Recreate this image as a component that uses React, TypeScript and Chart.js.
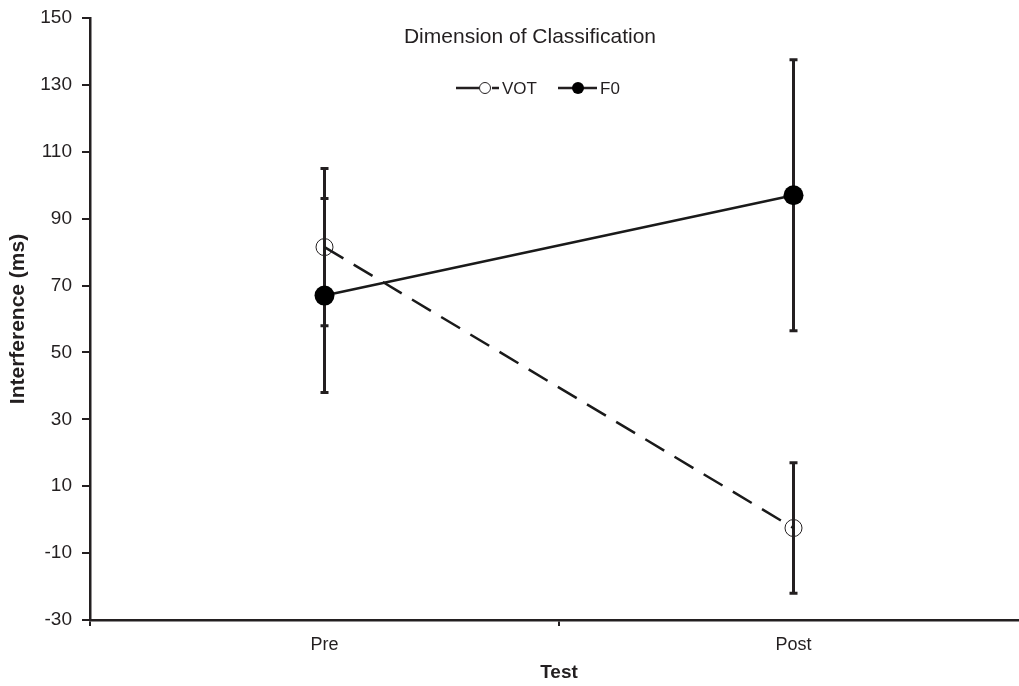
import React, { useEffect, useRef } from "react";
import { Chart, registerables } from "chart.js";

Chart.register(...registerables);

const categories = ["Pre", "Post"];
const votMeans = [81.5, -2.5];
const votErrors = [23.5, 19.5];
const f0Means = [67, 97];
const f0Errors = [29, 40.5];
const yTicks = { min: -30, max: 150, step: 20 };
const chartTitle = "Dimension of Classification";
const seriesNames = ["VOT", "F0"];

const INK = "#231f20";
const SANS = "Arial, 'Liberation Sans', Helvetica, sans-serif";

const errorBarPlugin = {
  id: "errorBars",
  beforeDatasetsDraw(chart: any) {
    const { ctx, scales } = chart;
    const x = scales.x;
    const y = scales.y;
    const sets = [
      { m: votMeans, e: votErrors },
      { m: f0Means, e: f0Errors },
    ];
    ctx.save();
    ctx.strokeStyle = INK;
    ctx.lineWidth = 3;
    ctx.setLineDash([]);
    sets.forEach((s) => {
      s.m.forEach((v, i) => {
        const px = x.getPixelForValue(i);
        const top = y.getPixelForValue(v + s.e[i]);
        const bot = y.getPixelForValue(v - s.e[i]);
        ctx.beginPath();
        ctx.moveTo(px, top);
        ctx.lineTo(px, bot);
        ctx.moveTo(px - 4, top);
        ctx.lineTo(px + 4, top);
        ctx.moveTo(px - 4, bot);
        ctx.lineTo(px + 4, bot);
        ctx.stroke();
      });
    });
    ctx.restore();
  },
};

const headerPlugin = {
  id: "header",
  afterDraw(chart: any) {
    const { ctx } = chart;
    ctx.save();
    ctx.fillStyle = INK;
    ctx.font = `21px ${SANS}`;
    ctx.textAlign = "center";
    ctx.textBaseline = "middle";
    ctx.fillText(chartTitle, 530, 37);

    const ly = 88;
    ctx.strokeStyle = INK;
    ctx.lineWidth = 2.5;
    // VOT legend
    ctx.beginPath();
    ctx.moveTo(456, ly);
    ctx.lineTo(479, ly);
    ctx.moveTo(492, ly);
    ctx.lineTo(499, ly);
    ctx.stroke();
    ctx.lineWidth = 1;
    ctx.beginPath();
    ctx.arc(485, ly, 5.5, 0, Math.PI * 2);
    ctx.stroke();
    ctx.textAlign = "left";
    ctx.font = `17px ${SANS}`;
    ctx.fillText(seriesNames[0], 502, ly + 1);
    // F0 legend
    ctx.lineWidth = 2.5;
    ctx.beginPath();
    ctx.moveTo(558, ly);
    ctx.lineTo(597, ly);
    ctx.stroke();
    ctx.fillStyle = "#000";
    ctx.beginPath();
    ctx.arc(578, ly, 6, 0, Math.PI * 2);
    ctx.fill();
    ctx.fillStyle = INK;
    ctx.fillText(seriesNames[1], 600, ly + 1);
    ctx.restore();
  },
};

export default function App() {
  const ref = useRef<HTMLCanvasElement | null>(null);

  useEffect(() => {
    if (!ref.current) return;
    const chart = new Chart(ref.current, {
      type: "line",
      data: {
        labels: categories,
        datasets: [
          {
            label: seriesNames[0],
            data: votMeans,
            borderColor: "#1a1a1a",
            borderWidth: 2.5,
            borderDash: [22, 12],
            pointRadius: 8.5,
            pointBorderWidth: 1,
            pointBorderColor: INK,
            pointBackgroundColor: "rgba(0,0,0,0)",
            fill: false,
            tension: 0,
          },
          {
            label: seriesNames[1],
            data: f0Means,
            borderColor: "#1a1a1a",
            borderWidth: 2.5,
            pointRadius: 10,
            pointBorderWidth: 0,
            pointBackgroundColor: "#000",
            fill: false,
            tension: 0,
          },
        ],
      },
      options: {
        animation: false,
        responsive: true,
        maintainAspectRatio: false,
        layout: { padding: { left: 0, right: 2, top: 18, bottom: 0 } },
        plugins: {
          legend: { display: false },
          tooltip: { enabled: false },
          title: { display: false },
        },
        scales: {
          x: {
            type: "category",
            offset: true,
            afterFit(scale: any) {
              scale.height = 66;
            },
            grid: {
              offset: true,
              drawOnChartArea: false,
              drawTicks: true,
              tickLength: 6,
              color: INK,
              lineWidth: 2,
            },
            border: { display: true, color: INK, width: 2.5 },
            ticks: {
              color: INK,
              font: { family: SANS, size: 18 },
              padding: 8,
            },
            title: {
              display: true,
              text: "Test",
              color: INK,
              font: { family: SANS, size: 19, weight: "bold" },
              padding: { top: 0, bottom: 2 },
            },
          },
          y: {
            min: yTicks.min,
            max: yTicks.max,
            afterFit(scale: any) {
              scale.width = 90;
              scale.paddingTop = 0;
              scale.paddingBottom = 0;
            },
            ticks: {
              stepSize: yTicks.step,
              color: INK,
              font: { family: SANS, size: 19 },
              padding: 10,
            },
            grid: {
              drawOnChartArea: false,
              drawTicks: true,
              tickLength: 8,
              color: INK,
              lineWidth: 2,
            },
            border: { display: true, color: INK, width: 2.5 },
            title: {
              display: true,
              text: "Interference (ms)",
              color: INK,
              font: { family: SANS, size: 21, weight: "bold" },
              padding: { top: 6, bottom: 0 },
            },
          },
        },
      },
      plugins: [errorBarPlugin, headerPlugin],
    });
    return () => chart.destroy();
  }, []);

  return (
    <div
      style={{
        position: "fixed",
        left: 0,
        top: 0,
        width: 1019,
        height: 686,
        overflow: "hidden",
        background: "#fff",
      }}
    >
      <div style={{ position: "relative", width: 1038, height: 686 }}>
        <canvas ref={ref} />
      </div>
    </div>
  );
}
